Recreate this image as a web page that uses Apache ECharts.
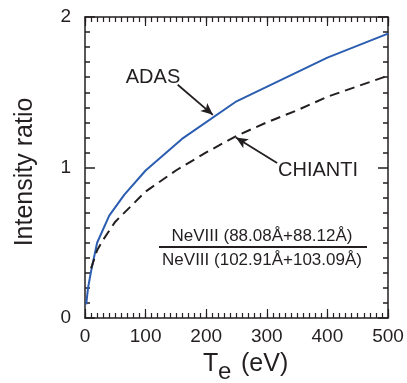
<!DOCTYPE html>
<html lang="en">
<head>
    <meta charset="UTF-8">
    <title>Intensity ratio</title>
    <script src="https://cdn.jsdelivr.net/npm/echarts@6/dist/echarts.min.js"></script>
    <style>
        html, body { margin: 0; padding: 0; background: #fff; }
    </style>
</head>
<body>
    <div id="chart" style="width: 407px;height:383px;"></div>

<script>
    // ADAS (blue solid)
    var adasTe = [2, 5, 10, 20, 40, 65, 100, 160, 250, 400, 500];
    var adasRatio = [0.09, 0.20, 0.31, 0.50, 0.68, 0.82, 0.98, 1.19, 1.44, 1.73, 1.89];
    // CHIANTI (black dashed)
    var chiantiTe = [10, 20, 30, 50, 75, 100, 150, 200, 250, 300, 350, 400, 450, 500];
    var chiantiRatio = [0.33, 0.45, 0.52, 0.64, 0.74, 0.84, 0.98, 1.10, 1.21, 1.30, 1.38, 1.47, 1.54, 1.61];
    // arrows: [from, to] in data units
    var adasArrow = [[153, 1.55], [211, 1.35]];
    var chiantiArrow = [[317, 1.03], [249, 1.20]];

    var font = 'Liberation Sans, Arial, Helvetica, sans-serif';
    var ink = '#231f20';

    function pairs(xs, ys) {
        var out = [];
        for (var i = 0; i < xs.length; i++) {
            out.push([xs[i], ys[i]]);
        }
        return out;
    }

    var myChart = echarts.init(document.getElementById('chart'));

    // major axes (grid 0) and minor-tick-only axes (grid 1, same box)
    function xAxisDef(grid, pos, step, tickLen, labels) {
        return {
            type: 'value', gridIndex: grid, position: pos, min: 0, max: 500, interval: step,
            axisLine: {show: grid === 0, onZero: false, lineStyle: {color: ink, width: 1.5}},
            axisTick: {inside: true, length: tickLen, lineStyle: {color: ink, width: 1.2}},
            axisLabel: labels ? {color: ink, fontSize: 19, fontFamily: font, margin: 9} : {show: false},
            splitLine: {show: false}
        };
    }
    function yAxisDef(grid, pos, step, tickLen, labels) {
        return {
            type: 'value', gridIndex: grid, position: pos, min: 0, max: 2, interval: step,
            axisLine: {show: grid === 0, onZero: false, lineStyle: {color: ink, width: 1.5}},
            axisTick: {inside: true, length: tickLen, lineStyle: {color: ink, width: 1.5}},
            axisLabel: labels ? {color: ink, fontSize: 19, fontFamily: font, margin: 14} : {show: false},
            splitLine: {show: false}
        };
    }

    var option = {
        backgroundColor: '#fff',
        animation: false,
        grid: [
            {left: 85, right: 19, top: 17, bottom: 65},
            {left: 85, right: 19, top: 17, bottom: 65}
        ],
        xAxis: [
            xAxisDef(0, 'bottom', 100, 9, true),
            xAxisDef(0, 'top', 100, 9, false),
            xAxisDef(1, 'bottom', 10, 5, false),
            xAxisDef(1, 'top', 10, 5, false)
        ],
        yAxis: [
            yAxisDef(0, 'left', 1, 10, true),
            yAxisDef(0, 'right', 1, 10, false),
            yAxisDef(1, 'left', 0.1, 5, false),
            yAxisDef(1, 'right', 0.1, 5, false)
        ],
        series: [
            {
                name: 'ADAS',
                type: 'line',
                xAxisIndex: 0, yAxisIndex: 0,
                data: pairs(adasTe, adasRatio),
                showSymbol: false,
                lineStyle: {color: '#2b5db1', width: 2},
                markLine: {
                    silent: true,
                    symbol: ['none', 'arrow'],
                    symbolSize: [8, 12],
                    label: {show: false},
                    lineStyle: {color: ink, width: 1.8, type: 'solid'},
                    data: [
                        [{coord: adasArrow[0]}, {coord: adasArrow[1]}],
                        [{coord: chiantiArrow[0]}, {coord: chiantiArrow[1]}]
                    ]
                }
            },
            {
                name: 'CHIANTI',
                type: 'line',
                xAxisIndex: 0, yAxisIndex: 0,
                data: pairs(chiantiTe, chiantiRatio),
                showSymbol: false,
                lineStyle: {color: ink, width: 2, type: [10, 6]}
            }
        ],
        graphic: [
            {
                type: 'text', rotation: Math.PI / 2,
                x: 25, y: 172,
                style: {text: 'Intensity ratio', fontSize: 25, fontFamily: font, fill: ink,
                        align: 'center', verticalAlign: 'middle'}
            },
            {
                type: 'text', x: 203, y: 364,
                style: {text: 'T', fontSize: 25, fontFamily: font, fill: ink, align: 'left', verticalAlign: 'middle'}
            },
            {
                type: 'text', x: 218, y: 372,
                style: {text: 'e', fontSize: 24, fontFamily: font, fill: ink, align: 'left', verticalAlign: 'middle'}
            },
            {
                type: 'text', x: 241, y: 364,
                style: {text: '(eV)', fontSize: 25, fontFamily: font, fill: ink, align: 'left', verticalAlign: 'middle'}
            },
            {
                type: 'text', x: 153, y: 77,
                style: {text: 'ADAS', fontSize: 20, fontFamily: font, fill: ink, align: 'center', verticalAlign: 'middle'}
            },
            {
                type: 'text', x: 318, y: 170,
                style: {text: 'CHIANTI', fontSize: 20, fontFamily: font, fill: ink, align: 'center', verticalAlign: 'middle'}
            },
            {
                type: 'text', x: 262, y: 236,
                style: {text: 'NeVIII (88.08Å+88.12Å)', fontSize: 17, fontFamily: font, fill: ink,
                        align: 'center', verticalAlign: 'middle'}
            },
            {
                type: 'line',
                shape: {x1: 159, y1: 247, x2: 367, y2: 247},
                style: {stroke: ink, lineWidth: 2}
            },
            {
                type: 'text', x: 262, y: 260,
                style: {text: 'NeVIII (102.91Å+103.09Å)', fontSize: 17, fontFamily: font, fill: ink,
                        align: 'center', verticalAlign: 'middle'}
            }
        ]
    };

    myChart.setOption(option);
</script>
</body>
</html>
